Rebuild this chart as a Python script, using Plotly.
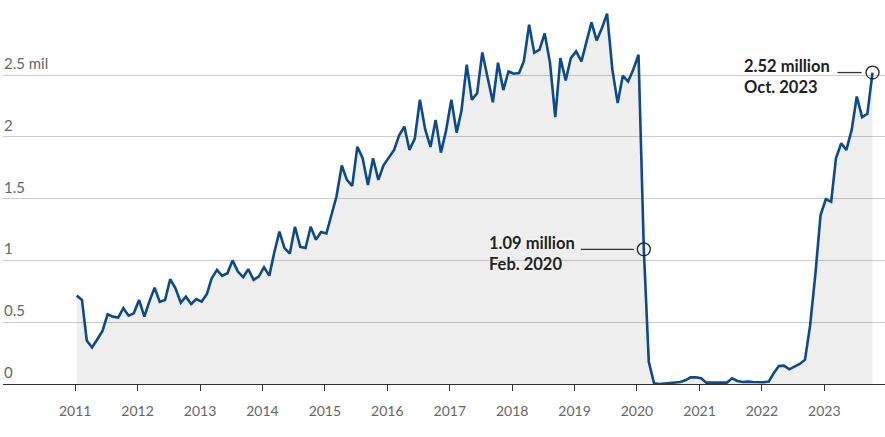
import plotly.graph_objects as go
import pandas as pd

# Monthly values (millions), Jan 2011 .. Oct 2023
start_month = "2011-01"
end_month = "2023-10"
values = [
    0.715, 0.68, 0.352, 0.295, 0.36, 0.43, 0.564, 0.545, 0.537, 0.613, 0.553, 0.572,   # 2011
    0.68, 0.545, 0.667, 0.78, 0.664, 0.68, 0.848, 0.775, 0.658, 0.707, 0.648, 0.688,   # 2012
    0.667, 0.729, 0.856, 0.923, 0.874, 0.896, 1.0, 0.91, 0.864, 0.929, 0.842, 0.869,   # 2013
    0.945, 0.877, 1.058, 1.233, 1.099, 1.055, 1.272, 1.11, 1.10, 1.272, 1.168, 1.23,   # 2014
    1.218, 1.37, 1.517, 1.768, 1.652, 1.603, 1.92, 1.827, 1.611, 1.827, 1.652, 1.77,   # 2015
    1.83, 1.894, 2.01, 2.083, 1.894, 1.985, 2.30, 2.06, 1.918, 2.137, 1.872, 2.05,     # 2016
    2.30, 2.034, 2.21, 2.583, 2.30, 2.353, 2.683, 2.488, 2.28, 2.60, 2.378, 2.529,     # 2017
    2.51, 2.516, 2.61, 2.907, 2.68, 2.705, 2.837, 2.60, 2.159, 2.637, 2.456, 2.637,    # 2018
    2.691, 2.61, 2.772, 2.926, 2.78, 2.88, 2.997, 2.543, 2.273, 2.494, 2.448, 2.543,   # 2019
    2.664, 1.09, 0.18, 0.005, 0.0, 0.003, 0.005, 0.011, 0.016, 0.03, 0.054, 0.054,     # 2020
    0.046, 0.011, 0.011, 0.011, 0.011, 0.011, 0.046, 0.024, 0.016, 0.019, 0.016, 0.014, # 2021
    0.014, 0.019, 0.086, 0.146, 0.149, 0.119, 0.14, 0.162, 0.197, 0.474, 0.894, 1.367, # 2022
    1.496, 1.474, 1.826, 1.948, 1.894, 2.056, 2.326, 2.159, 2.186, 2.52,               # 2023
]

x_tick_years = [2011, 2012, 2013, 2014, 2015, 2016, 2017, 2018, 2019, 2020, 2021, 2022, 2023]
y_tick_vals = [0, 0.5, 1, 1.5, 2, 2.5]
y_tick_text = ["0", "0.5", "1", "1.5", "2", "2.5 mil"]

callout_dates = ["2020-02", "2023-10"]
callout_values = [1.09, 2.52]
callout_labels = ["1.09 million<br>Feb. 2020", "2.52 million<br>Oct. 2023"]

dates = pd.date_range(start_month, end_month, freq="MS") + pd.Timedelta(days=9)
c_dates = [pd.Timestamp(d) + pd.Timedelta(days=9) for d in callout_dates]
tick_dates = [f"{y}-01-01" for y in x_tick_years]
tick_text = [str(y) for y in x_tick_years]

LINE = "#0c4a8c"
FONT = "Lato"

fig = go.Figure()
fig.add_trace(go.Scatter(
    x=dates, y=values, mode="lines",
    line=dict(color=LINE, width=2.6),
    fill="tozeroy", fillcolor="rgba(0,0,0,0.062)",
    hoverinfo="skip", showlegend=False,
))
fig.add_trace(go.Scatter(
    x=c_dates, y=callout_values, mode="markers",
    marker=dict(symbol="circle-open", size=13, color="#222222", line=dict(width=1.3)),
    hoverinfo="skip", showlegend=False,
))

shapes = []
annotations = []
for d, v, lab, (x0, x1, xs) in zip(c_dates, callout_values, callout_labels,
                                     [(-63, -10, -67), (-35, -11, -41)]):
    shapes.append(dict(type="line", xref="x", yref="y", xsizemode="pixel",
                       xanchor=d, x0=x0, x1=x1, y0=v, y1=v,
                       line=dict(color="#333333", width=1.3)))
    annotations.append(dict(x=d, y=v, xref="x", yref="y", text=lab, showarrow=False,
                            xanchor="right", yanchor="middle", xshift=xs, yshift=-4,
                            align="left",
                            font=dict(family=FONT, size=16.5, color="#222222", weight="bold",
                                      shadow="0px 0px 3px white")))
for tv, tt in zip(y_tick_vals, y_tick_text):
    annotations.append(dict(x=0, y=tv, xref="paper", yref="y", text=tt, showarrow=False,
                            xanchor="left", yanchor="bottom", xshift=-1, yshift=1,
                            font=dict(family=FONT, size=15, color="#666666")))

fig.update_layout(
    width=885, height=437,
    margin=dict(l=3, r=0, t=0, b=53),
    paper_bgcolor="white", plot_bgcolor="white",
    font=dict(family=FONT),
    shapes=shapes, annotations=annotations,
    xaxis=dict(
        type="date", range=["2009-11-05", "2023-12-22"],
        tickmode="array", tickvals=tick_dates, ticktext=tick_text,
        showgrid=False, showline=True, linecolor="#333333", linewidth=1,
        ticks="outside", ticklen=6, tickcolor="#333333", tickwidth=1,
        tickfont=dict(family=FONT, size=14, color="#666666"),
        ticklabelstandoff=8, fixedrange=True,
    ),
    yaxis=dict(
        range=[0, 3.107], tickvals=y_tick_vals, showticklabels=False,
        showgrid=True, gridcolor="#cccccc", gridwidth=1, zeroline=False,
        fixedrange=True,
    ),
)

fig.write_html("out.html", config={"displayModeBar": False},
               post_script="document.body.style.margin='0';")
